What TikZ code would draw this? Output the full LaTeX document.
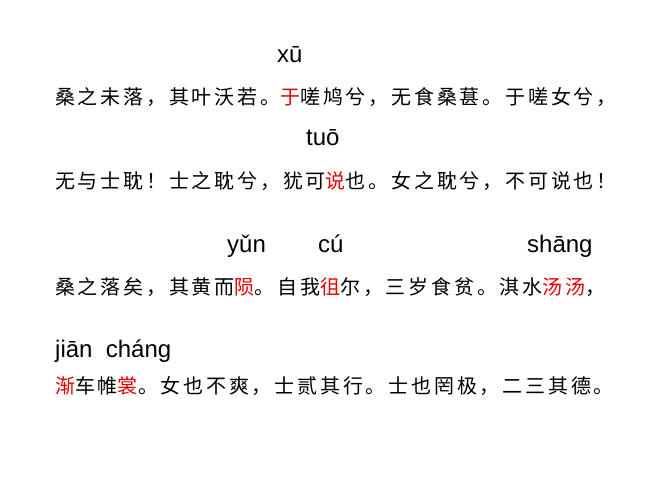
\documentclass[tikz,border=0pt]{standalone}
\usepackage{fontspec}
\setmainfont{Liberation Sans}
\newfontfamily\cjk[LetterSpace=14]{Noto Sans CJK SC}
\definecolor{hl}{RGB}{230,0,0}
\begin{document}
\begin{tikzpicture}[x=1pt,y=-1pt,
  cn/.style={anchor=west,inner sep=0pt,font=\cjk\fontsize{20}{20}\selectfont},
  py/.style={anchor=base west,inner sep=0pt,font=\fontsize{24}{24}\selectfont}]
\useasboundingbox[fill=white] (0,0) rectangle (667,500);
\node[py] (p1) at (277,63) {xū};
\node[cn] (l1) at (55,97) {桑之未落，其叶沃若。\textcolor{hl}{于}嗟鸠兮，无食桑葚。于嗟女兮，};
\node[py] (p2) at (306,146) {tuō};
\node[cn] (l2) at (55,181) {无与士耽！士之耽兮，犹可\textcolor{hl}{说}也。女之耽兮，不可说也！};
\node[py] (p3) at (227,252) {yǔn};
\node[py] (p4) at (318,252) {cú};
\node[py] (p5) at (527,252) {shāng};
\node[cn] (l3) at (55,287) {桑之落矣，其黄而\textcolor{hl}{陨}。自我\textcolor{hl}{徂}尔，三岁食贫。淇水\textcolor{hl}{汤汤}，};
\node[py] (p6) at (55,357) {jiān\ \ cháng};
\node[cn] (l4) at (55,386) {\textcolor{hl}{渐}车帷\textcolor{hl}{裳}。女也不爽，士贰其行。士也罔极，二三其德。};
\end{tikzpicture}
\end{document}
